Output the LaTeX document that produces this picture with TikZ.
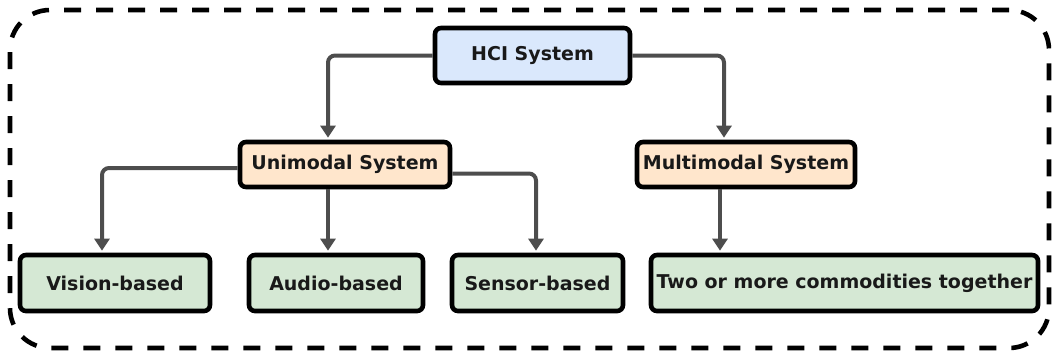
\documentclass[tikz,border=0pt]{standalone}
\usepackage{fontspec}
\setmainfont{DejaVu Sans}
\usetikzlibrary{arrows.meta}
\definecolor{hciblue}{HTML}{DAE8FC}
\definecolor{sysorange}{HTML}{FFE6CC}
\definecolor{leafgreen}{HTML}{D5E8D4}
\definecolor{linkgray}{HTML}{4D4D4D}
\begin{document}
\begin{tikzpicture}[x=1pt,y=-1pt,
  box/.style={draw=black, line width=4.6pt, rounded corners=6pt, inner sep=0pt,
    font=\fontsize{19}{22}\selectfont\bfseries, text=black!90},
  toprow/.style={box, fill=hciblue, minimum height=55pt},
  midrow/.style={box, fill=sysorange, minimum height=45pt},
  leafrow/.style={box, fill=leafgreen, minimum height=56pt},
  link/.style={draw=linkgray, line width=4pt, rounded corners=7pt, shorten >=2pt,
    -{Triangle[length=12pt,width=15pt]}},
  frame/.style={draw=black, line width=4.6pt, dash pattern=on 17pt off 15pt,
    rounded corners=40pt, inner sep=0pt}
]
\useasboundingbox (0,0) rectangle (1053,354);

% dashed enclosure
\node[frame, minimum width=1039pt, minimum height=338pt] (enclosure) at (529.5,179) {};

% hierarchy
\node[toprow, minimum width=195pt] (hci) at (532.5,55.5) {HCI System};
\node[midrow, minimum width=210pt] (uni) at (345,164.5) {Unimodal System};
\node[midrow, minimum width=218pt] (multi) at (746,164.5) {Multimodal System};
\node[leafrow, minimum width=190pt] (vision) at (115,283) {Vision-based};
\node[leafrow, minimum width=174pt] (audio) at (336,283) {Audio-based};
\node[leafrow, minimum width=171pt] (sensor) at (537.5,283) {Sensor-based};
\node[leafrow, minimum width=387pt] (two) at (844.5,283) {Two or more commodities together};

% connectors
\draw[link] (hci.west) -| ([xshift=-17pt]uni.north);
\draw[link] (hci.east) -| ([xshift=-22pt]multi.north);
\draw[link] ([yshift=-3.5pt]uni.west) -| ([xshift=-13pt]vision.north);
\draw[link] ([xshift=-17pt]uni.south) -- ([xshift=-8pt]audio.north);
\draw[link] ([yshift=-9pt]uni.east) -| ([xshift=-1.5pt]sensor.north);
\draw[link] ([xshift=-26pt]multi.south) -- ([xshift=-124.5pt]two.north);
\end{tikzpicture}
\end{document}
